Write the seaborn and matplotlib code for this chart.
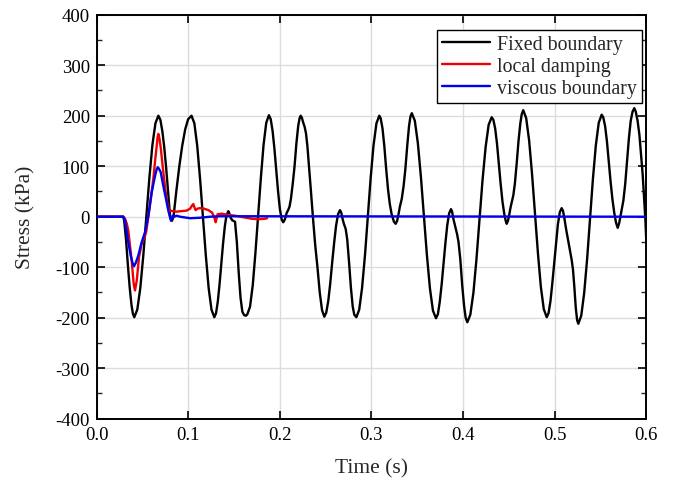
import matplotlib
matplotlib.use("Agg")
import matplotlib.pyplot as plt
import seaborn as sns
import pandas as pd
from matplotlib.ticker import MultipleLocator, FormatStrFormatter

# ---------------- data ----------------
fixed_t = [0.0000, 0.0290, 0.0300, 0.0320, 0.0340, 0.0360, 0.0380, 0.0395, 0.0410,
           0.0443, 0.0476, 0.0509, 0.0542, 0.0575, 0.0608, 0.0641, 0.0673,
           0.0695, 0.0716, 0.0737, 0.0758, 0.0779, 0.0800, 0.0812, 0.0822, 0.0832, 0.0840,
           0.0870, 0.0902, 0.0934, 0.0966, 0.0998, 0.1035,
           0.1066, 0.1097, 0.1128, 0.1160, 0.1191, 0.1222, 0.1253, 0.1284,
           0.1303, 0.1322, 0.1341, 0.1360, 0.1379, 0.1398, 0.1417, 0.1437,
           0.1450, 0.1465, 0.1480, 0.1510, 0.1530, 0.1550, 0.1570, 0.1590, 0.1610, 0.1630, 0.1645,
           0.1674, 0.1704, 0.1733, 0.1763, 0.1793, 0.1822, 0.1851, 0.1880,
           0.1900, 0.1920, 0.1940, 0.1960, 0.1980, 0.2000, 0.2020, 0.2037,
           0.2055, 0.2075, 0.2090, 0.2105, 0.2120, 0.2140, 0.2160, 0.2180, 0.2200, 0.2215, 0.2227,
           0.2240, 0.2255, 0.2270, 0.2285, 0.2300, 0.2320, 0.2340, 0.2360, 0.2385, 0.2410, 0.2435, 0.2460, 0.2485,
           0.2506, 0.2528, 0.2549, 0.2570, 0.2592, 0.2613, 0.2635, 0.2656,
           0.2670, 0.2685, 0.2700, 0.2718, 0.2735, 0.2755, 0.2775, 0.2795, 0.2812, 0.2835,
           0.2866, 0.2897, 0.2929, 0.2960, 0.2991, 0.3022, 0.3054, 0.3085,
           0.3100, 0.3120, 0.3140, 0.3160, 0.3180, 0.3200, 0.3220, 0.3245, 0.3264,
           0.3280, 0.3295, 0.3310, 0.3330, 0.3350, 0.3370, 0.3390, 0.3410, 0.3425, 0.3440,
           0.3473, 0.3506, 0.3539, 0.3572, 0.3605, 0.3638, 0.3671, 0.3704,
           0.3725, 0.3745, 0.3766, 0.3786, 0.3807, 0.3827, 0.3848, 0.3868,
           0.3880, 0.3895, 0.3915, 0.3935, 0.3950, 0.3970, 0.3990, 0.4010, 0.4028, 0.4046,
           0.4079, 0.4113, 0.4146, 0.4179, 0.4212, 0.4246, 0.4279, 0.4312,
           0.4330, 0.4350, 0.4370, 0.4390, 0.4410, 0.4430, 0.4450, 0.4465, 0.4476,
           0.4490, 0.4505, 0.4520, 0.4535, 0.4548, 0.4565, 0.4585, 0.4605, 0.4625, 0.4640, 0.4657,
           0.4689, 0.4721, 0.4753, 0.4785, 0.4817, 0.4849, 0.4881, 0.4913,
           0.4933, 0.4954, 0.4974, 0.4995, 0.5015, 0.5035, 0.5056, 0.5076,
           0.5090, 0.5105, 0.5125, 0.5145, 0.5167, 0.5185, 0.5200, 0.5215, 0.5230, 0.5245, 0.5258,
           0.5290, 0.5322, 0.5354, 0.5386, 0.5417, 0.5449, 0.5481, 0.5513,
           0.5530, 0.5550, 0.5570, 0.5590, 0.5610, 0.5630, 0.5650, 0.5670, 0.5688,
           0.5705, 0.5720, 0.5735, 0.5750, 0.5770, 0.5790, 0.5810, 0.5830, 0.5850, 0.5869,
           0.5885, 0.5905, 0.5925, 0.5945, 0.5960, 0.5975, 0.5990, 0.6000]
fixed_v = [0, 0, -8, -45, -95, -140, -175, -192, -199,
           -184, -141, -76, 0, 77, 142, 185, 200,
           192, 170, 138, 97, 50, 3, -6, -8, -3, 2,
           52, 100, 141, 173, 193, 200,
           185, 141, 76, 0, -76, -141, -184, -199,
           -191, -168, -134, -94, -54, -20, 3, 11,
           6, -3, -7, -10, -50, -110, -160, -188, -195, -196, -193,
           -178, -135, -71, 4, 79, 143, 186, 201,
           193, 170, 135, 92, 50, 15, -6, -11,
           -5, 8, 13, 20, 35, 65, 100, 145, 180, 195, 200,
           196, 186, 178, 165, 140, 95, 48, 0, -55, -100, -150, -185, -198,
           -190, -167, -133, -92, -52, -18, 5, 13,
           8, -5, -15, -24, -45, -90, -140, -178, -194, -199,
           -184, -141, -76, 0, 77, 141, 185, 200,
           195, 175, 140, 95, 55, 25, 5, -10, -14,
           -8, 5, 20, 35, 60, 95, 140, 180, 198, 205,
           190, 146, 80, 2, -76, -142, -186, -201,
           -193, -169, -134, -93, -52, -17, 7, 15,
           10, -5, -20, -35, -50, -85, -135, -175, -200, -209,
           -194, -150, -84, -6, 72, 138, 182, 197,
           192, 175, 145, 105, 65, 30, 5, -8, -14,
           -8, 5, 20, 32, 42, 65, 105, 150, 185, 203, 211,
           195, 151, 84, 6, -72, -139, -183, -199,
           -191, -167, -132, -91, -50, -15, 9, 17,
           12, -2, -25, -45, -67, -85, -105, -140, -180, -205, -212,
           -196, -151, -84, -5, 74, 141, 186, 202,
           197, 180, 150, 110, 70, 35, 8, -12, -22,
           -12, 3, 18, 32, 65, 110, 155, 190, 208, 215,
           208, 190, 162, 118, 85, 40, -5, -48]

local_t = [0.0000, 0.0290, 0.0310, 0.0330, 0.0345, 0.0365, 0.0382, 0.0395, 0.0404, 0.0418,
           0.0437, 0.0462, 0.0490, 0.0520, 0.0540, 0.0560, 0.0590, 0.0618, 0.0640, 0.0655, 0.0665, 0.0673,
           0.0685, 0.0700, 0.0720, 0.0746, 0.0765, 0.0782, 0.0800, 0.0830, 0.0870, 0.0920, 0.0980,
           0.1020, 0.1040, 0.1055, 0.1068, 0.1080, 0.1100, 0.1128, 0.1170, 0.1220, 0.1260, 0.1285,
           0.1299, 0.1310, 0.1320, 0.1366, 0.1420, 0.1510, 0.1600, 0.1692, 0.1764, 0.1837, 0.1860]
local_v = [0, 0, -4, -15, -28, -60, -87, -115, -133, -146,
           -127, -80, -54, -42, -30, -5, 35, 75, 115, 140, 158, 164,
           155, 135, 100, 58, 32, 18, 12, 11, 10, 11, 12,
           16, 22, 25, 18, 13, 16, 17, 16, 13, 8, -2,
           -11, -2, 5, 6, 4, 2, -1, -4, -5, -4, -3]

viscous_t = [0.0000, 0.0290, 0.0310, 0.0345, 0.0371, 0.0395, 0.0407, 0.0425, 0.0454, 0.0490,
             0.0527, 0.0564, 0.0600, 0.0637, 0.0655, 0.0666, 0.0680, 0.0699, 0.0727, 0.0757,
             0.0782, 0.0800, 0.0811, 0.0830, 0.0845, 0.0873, 0.0910, 0.1020, 0.1128, 0.1237,
             0.1346, 0.6000]
viscous_v = [0, 0, -8, -51, -77, -94, -98, -92, -77, -51,
             -31, 2, 48, 81, 94, 98, 95, 88, 61, 35,
             12, -1, -8, 2, 0, 2, 0, -3, -2, 0,
             1, 0]

series_names = ["Fixed boundary", "local damping", "viscous boundary"]
series_colors = ["#000000", "#f00000", "#0000ee"]
x_ticks = [0.0, 0.1, 0.2, 0.3, 0.4, 0.5, 0.6]
y_ticks = [-400, -300, -200, -100, 0, 100, 200, 300, 400]

# ---------------- plotting ----------------
sns.set_style("ticks")
plt.rcParams["font.family"] = ["Liberation Serif", "DejaVu Serif"]
plt.rcParams["axes.unicode_minus"] = False

fig = plt.figure(figsize=(6.73, 4.85), dpi=100)
ax = fig.add_axes([0.1437, 0.1346, 0.8166, 0.833])

frames = [
    pd.DataFrame({"t": fixed_t, "v": fixed_v}),
    pd.DataFrame({"t": local_t, "v": local_v}),
    pd.DataFrame({"t": viscous_t, "v": viscous_v}),
]
for df, name, col, z in zip(frames, series_names, series_colors, [2, 3, 4]):
    sns.lineplot(data=df, x="t", y="v", ax=ax, color=col, lw=1.7, label=name,
                 sort=False, estimator=None, zorder=z)

ax.set_xlim(x_ticks[0], x_ticks[-1])
ax.set_ylim(y_ticks[0], y_ticks[-1])
ax.set_xticks(x_ticks)
ax.set_yticks(y_ticks)
ax.xaxis.set_major_formatter(FormatStrFormatter("%.1f"))
ax.yaxis.set_major_formatter(FormatStrFormatter("%d"))
ax.yaxis.set_minor_locator(MultipleLocator(50))

ax.grid(True, which="major", color="#dcdcdc", lw=1.0, zorder=0)
ax.set_axisbelow(True)

ax.tick_params(axis="both", which="major", direction="in", length=6, width=1.2,
               top=True, right=True, labelsize=13.5, pad=5, colors="black")
ax.tick_params(axis="y", which="minor", direction="in", length=3.5, width=1.0,
               right=True, left=True)
for sp in ax.spines.values():
    sp.set_color("black")
    sp.set_linewidth(1.4)

ax.set_xlabel("Time (s)", fontsize=15.5, labelpad=11)
ax.set_ylabel("Stress (kPa)", fontsize=15.5, labelpad=14)

leg = ax.legend(loc="upper right", bbox_to_anchor=(0.9916, 0.9621), borderaxespad=0,
                fontsize=14.3, frameon=True, fancybox=False, edgecolor="black",
                framealpha=1, handlelength=2.4, handletextpad=0.35,
                labelspacing=0.15, borderpad=0.25)
leg.get_frame().set_linewidth(1.0)

fig.savefig("out.png", dpi=100)
